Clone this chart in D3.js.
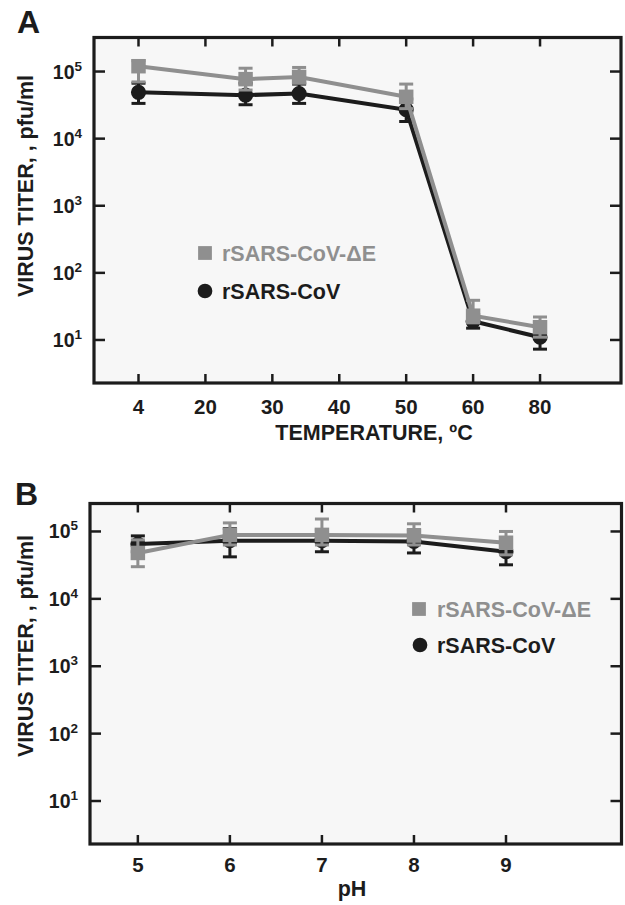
<!DOCTYPE html>
<html><head><meta charset="utf-8">
<script src="https://cdn.jsdelivr.net/npm/d3@7"></script>
<style>
body{margin:0;background:#fff;}
svg{display:block;font-family:"Liberation Sans",Arial,Helvetica,sans-serif;font-weight:bold;}
</style></head>
<body><svg id="c" width="625" height="905"></svg>
<script>
// ---------- DATA ----------
const tempTicks = [4, 20, 30, 40, 50, 60, 80];
const tempX = [4, 26, 34, 50, 60, 80];
const deltaETemp   = [1.2e5, 7.7e4, 8.3e4, 4.2e4, 23, 15.5];
const deltaETempLo = [7.0e4, 5.3e4, 6.7e4, 2.8e4, 18, 11];
const deltaETempHi = [1.45e5, 1.12e5, 1.15e5, 6.5e4, 39, 22];
const wtTemp   = [4.9e4, 4.45e4, 4.7e4, 2.7e4, 19, 11];
const wtTempLo = [3.35e4, 3.2e4, 3.35e4, 1.8e4, 15, 7.3];
const wtTempHi = [6.7e4, 6.7e4, 6.5e4, 3.9e4, 24, 16];

const phTicks = [5, 6, 7, 8, 9];
const phX = [5, 6, 7, 8, 9];
const deltaEPh   = [4.8e4, 8.9e4, 8.9e4, 8.7e4, 6.8e4];
const deltaEPhLo = [3.0e4, 6.3e4, 6.3e4, 6.3e4, 4.5e4];
const deltaEPhHi = [7.5e4, 1.34e5, 1.53e5, 1.3e5, 1.0e5];
const wtPh   = [6.5e4, 7.3e4, 7.3e4, 7.1e4, 5.0e4];
const wtPhLo = [5.0e4, 4.2e4, 5.0e4, 4.8e4, 3.2e4];
const wtPhHi = [8.6e4, 1.1e5, 1.05e5, 1.05e5, 7.8e4];

const yTickExps = [1, 2, 3, 4, 5];
const seriesNames = ["rSARS-CoV-\u0394E", "rSARS-CoV"];
const yTitle = "VIRUS TITER, ,  pfu/ml";
const xTitleA = "TEMPERATURE, \u00baC";
const xTitleB = "pH";

// ---------- STYLE ----------
const GREY = "#8f8f8f", DARK = "#1c1c1c", BG = "#f7f7f7";
const svg = d3.select("#c");

function panel(o) {
  const g = svg.append("g");
  const {left, right, top, bottom} = o;
  g.append("rect").attr("x", left).attr("y", top).attr("width", right - left).attr("height", bottom - top)
    .attr("fill", BG);

  const x = o.x, y = o.y;
  const tl = 9;
  o.xTicks.forEach(t => {
    const px = x(t);
    g.append("line").attr("x1", px).attr("x2", px).attr("y1", bottom).attr("y2", bottom - tl).attr("stroke", DARK).attr("stroke-width", 2.5);
    g.append("line").attr("x1", px).attr("x2", px).attr("y1", top).attr("y2", top + tl).attr("stroke", DARK).attr("stroke-width", 2.5);
    g.append("text").attr("x", px).attr("y", bottom + o.tickLabDy).attr("text-anchor", "middle")
      .attr("font-size", 20.5).attr("fill", DARK).text(t);
  });
  yTickExps.forEach(e => {
    const py = y(Math.pow(10, e));
    g.append("line").attr("x1", left).attr("x2", left + tl + 2).attr("y1", py).attr("y2", py).attr("stroke", DARK).attr("stroke-width", 2.5);
    g.append("line").attr("x1", right).attr("x2", right - tl - 2).attr("y1", py).attr("y2", py).attr("stroke", DARK).attr("stroke-width", 2.5);
    const t = g.append("text").attr("x", left - 12).attr("y", py + 7).attr("text-anchor", "end")
      .attr("font-size", 19.5).attr("fill", DARK);
    t.append("tspan").text("10");
    t.append("tspan").attr("font-size", 13.5).attr("dy", -8).text(e);
  });
  g.append("rect").attr("x", left).attr("y", top).attr("width", right - left).attr("height", bottom - top)
    .attr("fill", "none").attr("stroke", DARK).attr("stroke-width", 3.2);

  g.append("text").attr("transform", `translate(${33},${o.yTitleY}) rotate(-90)`)
    .attr("text-anchor", "middle").attr("font-size", 21.5).attr("fill", DARK).text(yTitle);
  g.append("text").attr("x", o.xTitleX).attr("y", bottom + o.titleDy).attr("text-anchor", "middle")
    .attr("font-size", 21.5).attr("fill", DARK).text(o.xTitle);
  g.append("text").attr("x", o.labX).attr("y", o.labY).attr("font-size", 32).attr("fill", DARK).text(o.label);

  const line = d3.line().x(d => x(d.x)).y(d => y(d.v));
  o.series.forEach(s => {
    const pts = s.xs.map((xv, i) => ({x: xv, v: s.v[i], lo: s.lo[i], hi: s.hi[i]}));
    g.append("path").datum(pts).attr("d", line).attr("fill", "none").attr("stroke", s.color).attr("stroke-width", 4);
    pts.forEach(p => {
      const px = x(p.x);
      g.append("line").attr("x1", px).attr("x2", px).attr("y1", y(p.lo)).attr("y2", y(p.hi)).attr("stroke", s.color).attr("stroke-width", 3);
      [p.lo, p.hi].forEach(v => g.append("line").attr("x1", px - 7).attr("x2", px + 7).attr("y1", y(v)).attr("y2", y(v))
        .attr("stroke", s.color).attr("stroke-width", 3));
      g.append("path").attr("transform", `translate(${px},${y(p.v)})`)
        .attr("d", d3.symbol().type(s.symbol).size(s.symbol === d3.symbolSquare ? 210 : 180)()).attr("fill", s.color);
    });
  });

  o.legend.forEach(L => {
    g.append("path").attr("transform", `translate(${L.sx},${L.sy})`)
      .attr("d", d3.symbol().type(L.symbol).size(L.symbol === d3.symbolSquare ? 190 : 170)()).attr("fill", L.color);
    g.append("text").attr("x", L.tx).attr("y", L.sy + 8).attr("font-size", 21.5).attr("fill", L.color).text(L.name);
  });
}

// ---------- PANEL A ----------
const xIdxA = d3.scaleLinear().domain([-0.665, 7.21]).range([94, 621]);
const xA = d3.scaleLinear().domain(tempTicks).range(tempTicks.map((d, i) => xIdxA(i)));
const yA = d3.scaleLog().domain([Math.pow(10, 0.359), Math.pow(10, 5.507)]).range([383, 37.5]);
panel({
  left: 94, right: 621, top: 37.5, bottom: 383, x: xA, y: yA, xTicks: tempTicks,
  tickLabDy: 31, titleDy: 57,
  xTitle: xTitleA, xTitleX: 374, yTitleY: 186, label: "A", labX: 17, labY: 33,
  series: [
    {xs: tempX, v: wtTemp, lo: wtTempLo, hi: wtTempHi, color: DARK, symbol: d3.symbolCircle},
    {xs: tempX, v: deltaETemp, lo: deltaETempLo, hi: deltaETempHi, color: GREY, symbol: d3.symbolSquare}
  ],
  legend: [
    {name: seriesNames[0], color: GREY, symbol: d3.symbolSquare, sx: 205, sy: 253, tx: 222},
    {name: seriesNames[1], color: DARK, symbol: d3.symbolCircle, sx: 205, sy: 291, tx: 222}
  ]
});

// ---------- PANEL B ----------
const xB = d3.scaleLinear().domain([4.48, 10.255]).range([90, 621.5]);
const yB = d3.scaleLog().domain([Math.pow(10, 0.362), Math.pow(10, 5.415)]).range([844, 503.5]);
panel({
  left: 90, right: 621.5, top: 503.5, bottom: 844, x: xB, y: yB, xTicks: phTicks,
  tickLabDy: 28, titleDy: 52,
  xTitle: xTitleB, xTitleX: 352, yTitleY: 646, label: "B", labX: 15, labY: 505,
  series: [
    {xs: phX, v: wtPh, lo: wtPhLo, hi: wtPhHi, color: DARK, symbol: d3.symbolCircle},
    {xs: phX, v: deltaEPh, lo: deltaEPhLo, hi: deltaEPhHi, color: GREY, symbol: d3.symbolSquare}
  ],
  legend: [
    {name: seriesNames[0], color: GREY, symbol: d3.symbolSquare, sx: 419, sy: 609, tx: 437},
    {name: seriesNames[1], color: DARK, symbol: d3.symbolCircle, sx: 420, sy: 645, tx: 437}
  ]
});
</script></body></html>
